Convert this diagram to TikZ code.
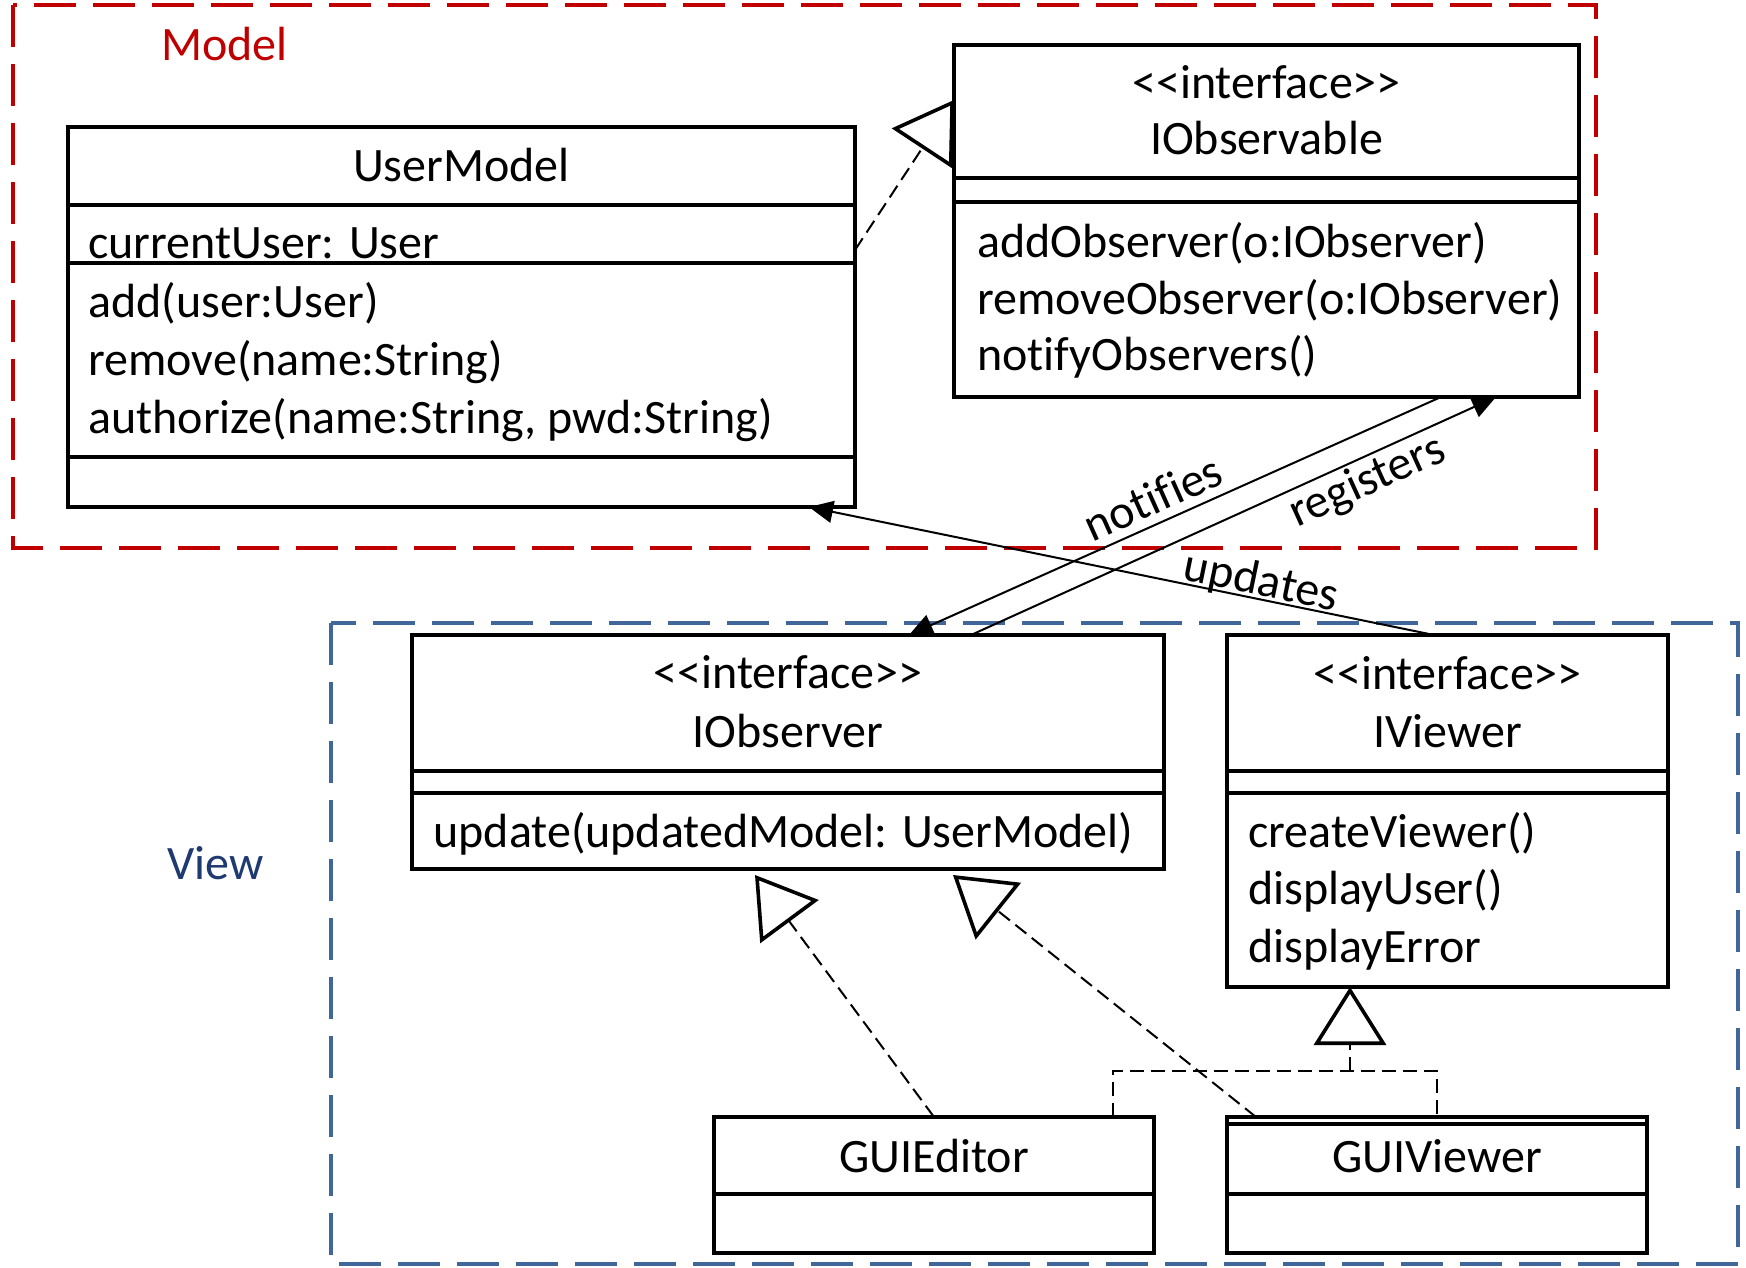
\documentclass[tikz,border=0pt]{standalone}
\usepackage{fontspec}
\setmainfont{Carlito}[Ligatures={NoCommon}]
\usetikzlibrary{arrows.meta,fit,calc}
\definecolor{mred}{HTML}{C00000}
\definecolor{vblue}{HTML}{41669A}
\definecolor{vtext}{HTML}{1F3A70}
\tikzset{
  opentri/.tip={Triangle[open, length=29pt, width=36pt, line width=1.8pt, fill=white]},
  filltri/.tip={Triangle[length=12pt, width=11pt]}
}
\begin{document}
\begin{tikzpicture}[x=0.5pt,y=-0.5pt,
  box/.style={draw, line width=2.2pt, inner sep=0pt, outer sep=0pt},
  div/.style={line width=1.9pt},
  txt/.style={inner sep=0pt, font=\fontsize{24}{29}\selectfont},
  lt/.style={txt, anchor=base west},
  ct/.style={txt, anchor=base},
  lbl/.style={txt},
  real/.style={line width=1pt, dash pattern=on 7pt off 3.5pt},
  assoc/.style={line width=1pt},
  pkg/.style={line width=2.2pt, dash pattern=on 21pt off 8.5pt}
]
\fill[white] (0,0) rectangle (1746,1268);
\useasboundingbox (0,0) rectangle (1746,1268);

% packages
\draw[mred, pkg] (13,5) rectangle (1596,548);
\draw[vblue, pkg] (331,623) rectangle (1738,1264);
\node[lt, text=mred] (lmodel) at (161,61) {Model};
\node[lt, text=vtext] (lview) at (167,879) {View};

% UserModel
\node[box, fit={(68,127) (855,507)}] (um) {};
\draw[div] (68,205) -- (855,205);
\draw[div] (68,263) -- (855,263);
\draw[div] (68,457) -- (855,457);
\node[ct] (umn) at (461.5,182) {UserModel};
\node[lt] (uma1) at (88,258) {currentUser: User};
\node[lt] (umm1) at (88,317) {add(user:User)};
\node[lt] (umm2) at (88,375) {remove(name:String)};
\node[lt] (umm3) at (88,433) {authorize(name:String, pwd:String)};

% IObservable
\node[box, fit={(954,45) (1579,397)}] (iob) {};
\draw[div] (954,178) -- (1579,178);
\draw[div] (954,202) -- (1579,202);
\node[ct] (iobs1) at (1266.5,99) {{<}{<}interface{>}{>}};
\node[ct] (iobn) at (1266.5,155) {IObservable};
\node[lt] (iobm1) at (977,257) {addObserver(o:IObserver)};
\node[lt] (iobm2) at (977,314) {removeObserver(o:IObserver)};
\node[lt] (iobm3) at (977,370) {notifyObservers()};

% IObserver
\node[box, fit={(412,635) (1164,869)}] (iobs) {};
\draw[div] (412,771) -- (1164,771);
\draw[div] (412,793) -- (1164,793);
\node[ct] (iobss) at (788,688) {{<}{<}interface{>}{>}};
\node[ct] (iobsn) at (788,747) {IObserver};
\node[lt] (iobsm1) at (433,847) {update(updatedModel: UserModel)};

% IViewer
\node[box, fit={(1227,635) (1668,987)}] (iv) {};
\draw[div] (1227,771) -- (1668,771);
\draw[div] (1227,793) -- (1668,793);
\node[ct] (ivs) at (1447.5,689) {{<}{<}interface{>}{>}};
\node[ct] (ivn) at (1447.5,747) {IViewer};
\node[lt] (ivm1) at (1248,847) {createViewer()};
\node[lt] (ivm2) at (1248,904) {displayUser()};
\node[lt] (ivm3) at (1248,962) {displayError};

% GUIEditor
\node[box, fit={(714,1117) (1154,1253)}] (ge) {};
\draw[div] (714,1194) -- (1154,1194);
\node[ct] (gen) at (934,1172) {GUIEditor};

% GUIViewer
\node[box, fit={(1227,1117) (1647,1253)}] (gv) {};
\draw[div] (1227,1124) -- (1647,1124);
\draw[div] (1227,1194) -- (1647,1194);
\node[ct] (gvn) at (1437,1172) {GUIViewer};

% realizations
\draw[real, -opentri] ($(um.north east)+(0,123)$) -- ($(iob.north west)+(0,55)$);
\draw[real, -opentri] (ge.north) -- ($(iobs.south west)+(343,6)$);
\draw[real, -opentri] ($(gv.north west)+(29,0)$) -- ($(iobs.south west)+(541,6)$);
\coordinate (ja) at (1113,1071);
\coordinate (jb) at (1437,1071);
\coordinate (jm) at (1350,1071);
\draw[real] (ge.north -| ja) -- (ja) -- (jb) -- (gv.north -| jb);
\draw[real, -opentri] (jm) -- (jm |- iv.south);

% associations
\draw[assoc, filltri-] ($(iobs.north west)+(497,0)$) -- node[lbl, sloped, above=4pt, pos=0.478] (lnot) {notifies} ($(iob.south west)+(487,0)$);
\draw[assoc, -filltri] ($(iobs.north west)+(559,0)$) -- node[lbl, sloped, below=1.5pt, pos=0.736] (lreg) {registers} ($(iob.south west)+(542,0)$);
\draw[assoc, filltri-] ($(um.south west)+(741,0)$) -- node[lbl, sloped, above=-2.5pt, pos=0.718] (lupd) {updates} ($(iv.north west)+(207,0)$);
\end{tikzpicture}
\end{document}
